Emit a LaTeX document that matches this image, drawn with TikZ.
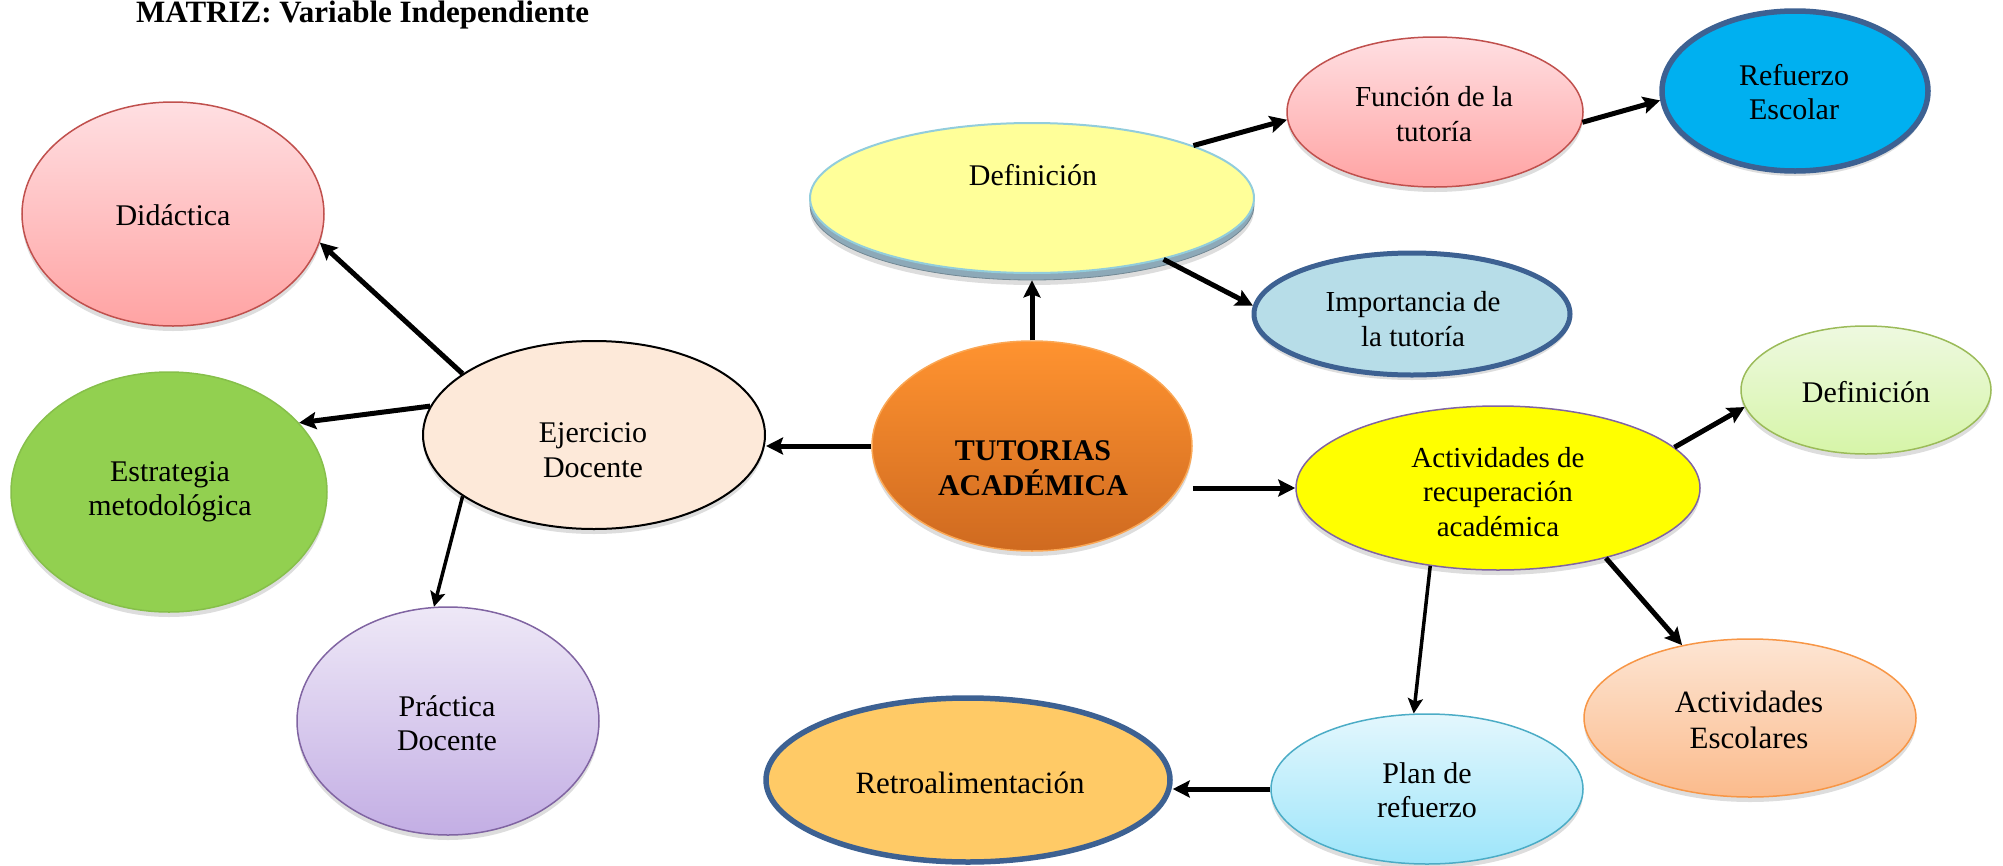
\documentclass[tikz,border=0pt]{standalone}
\usepackage{fontspec}
\setmainfont{Liberation Serif}
\usetikzlibrary{shapes.geometric,arrows.meta,shadows}
\definecolor{cRedB}{HTML}{C0504D}
\definecolor{cPinkT}{HTML}{FFDFE2}
\definecolor{cPinkB}{HTML}{FFA3A3}
\definecolor{cGreen}{HTML}{92D050}
\definecolor{cPeachE}{HTML}{FDE9D9}
\definecolor{cLavT}{HTML}{EEE8F7}
\definecolor{cLavB}{HTML}{C3AEE4}
\definecolor{cPurB}{HTML}{8064A2}
\definecolor{cGold}{HTML}{FFCA66}
\definecolor{cNavy}{HTML}{3D6192}
\definecolor{cCyT}{HTML}{E3F7FD}
\definecolor{cCyB}{HTML}{9DE5FA}
\definecolor{cCyBd}{HTML}{4BACC6}
\definecolor{cOrT}{HTML}{FDE5D3}
\definecolor{cOrB}{HTML}{FBBB8C}
\definecolor{cOrBd}{HTML}{F79646}
\definecolor{cYel}{HTML}{FFFF00}
\definecolor{cTutT}{HTML}{FF9330}
\definecolor{cTutB}{HTML}{CF6A20}
\definecolor{cTutBd}{HTML}{FAA755}
\definecolor{cLYel}{HTML}{FFFF99}
\definecolor{cLBlue}{HTML}{92CDDC}
\definecolor{cExtr}{HTML}{8DA9B8}
\definecolor{cSky}{HTML}{00B0F0}
\definecolor{cPaleB}{HTML}{B7DDE8}
\definecolor{cLimT}{HTML}{EEF9E0}
\definecolor{cLimB}{HTML}{D6F5A8}
\definecolor{cLimBd}{HTML}{9BBB59}
\tikzset{
  ell/.style={ellipse, inner sep=0pt, line width=1.5pt},
  sh/.style={drop shadow={shadow xshift=0pt, shadow yshift=-5pt, opacity=0.22, fill=black!60}},
  txt/.style={font=\fontsize{30}{34.5}\selectfont, align=center, inner sep=0pt},
  arr/.style={line width=5pt, -{Stealth[length=17pt,width=17pt,inset=3pt]}},
  arrthin/.style={line width=3.5pt, -{Stealth[length=15pt,width=15pt,inset=3pt]}}
}
\begin{document}
\begin{tikzpicture}[x=1pt,y=-1pt]
\useasboundingbox (0,0) rectangle (2003,865);
% title
\node[anchor=base west, inner sep=0pt, font=\fontsize{31}{36}\selectfont\bfseries] (title) at (136,22) {MATRIZ: Variable Independiente};
% ellipses
\node[ell, sh, minimum width=302pt, minimum height=224pt, draw=cRedB, top color=cPinkT, bottom color=cPinkB] (did) at (173,214) {};
\node[ell, sh, minimum width=316pt, minimum height=240pt, draw=cGreen!92!black, fill=cGreen] (est) at (169,492) {};
\node[ell, sh, minimum width=342pt, minimum height=188pt, draw=black, line width=2pt, fill=cPeachE] (eje) at (594,435) {};
\node[ell, sh, minimum width=302pt, minimum height=228pt, draw=cPurB, top color=cLavT, bottom color=cLavB] (prac) at (448,721) {};
\node[ell, minimum width=404pt, minimum height=164pt, draw=cNavy, line width=5.5pt, fill=cGold] (retro) at (968,780) {};
\node[ell, sh, minimum width=312pt, minimum height=150pt, draw=cCyBd, top color=cCyT, bottom color=cCyB] (plan) at (1427,789) {};
\node[ell, sh, minimum width=332pt, minimum height=158pt, draw=cOrBd, top color=cOrT, bottom color=cOrB] (aesc) at (1750,718) {};
\node[ell, sh, minimum width=404pt, minimum height=164pt, draw=cPurB, fill=cYel] (act) at (1498,488) {};
\node[ell, sh, minimum width=320pt, minimum height=210pt, draw=cTutBd, top color=cTutT, bottom color=cTutB] (tut) at (1032,446) {};
\node[ell, sh, minimum width=444pt, minimum height=150pt, draw=cExtr!80!black, line width=0.8pt, fill=cExtr] (defx) at (1032,205) {};
\node[ell, minimum width=444pt, minimum height=150pt, draw=cLBlue, line width=2pt, fill=cLYel] (def) at (1032,198) {};
\node[ell, sh, minimum width=296pt, minimum height=150pt, draw=cRedB, top color=cPinkT, bottom color=cPinkB] (fun) at (1435,112) {};
\node[ell, sh, minimum width=266pt, minimum height=160pt, draw=cNavy, line width=5.5pt, fill=cSky] (ref) at (1795,91) {};
\node[ell, sh, minimum width=316pt, minimum height=122pt, draw=cNavy, line width=5pt, fill=cPaleB] (imp) at (1412,314) {};
\node[ell, sh, minimum width=250pt, minimum height=128pt, draw=cLimBd, top color=cLimT, bottom color=cLimB] (defg) at (1866,390) {};
% texts
\node[txt] (didT) at (173,215) {Didáctica};
\node[txt] (estT) at (170,492) {Estrategia\\metodológica};
\node[txt] (ejeT) at (593,450) {Ejercicio\\Docente};
\node[txt] (pracT) at (447,723) {Práctica\\Docente};
\node[txt, font=\fontsize{31}{35}\selectfont] (retroT) at (970,783) {Retroalimentación};
\node[txt] (planT) at (1427,790) {Plan de\\refuerzo};
\node[txt, font=\fontsize{31}{36}\selectfont] (aescT) at (1749,720) {Actividades\\Escolares};
\node[txt, font=\fontsize{29}{34.5}\selectfont] (actT) at (1498,492) {Actividades de\\recuperación\\académica};
\node[txt, font=\fontsize{30}{34.5}\selectfont\bfseries] (tutT) at (1033,468) {TUTORIAS\\ACADÉMICA};
\node[txt] (defT) at (1033,175) {Definición};
\node[txt, font=\fontsize{29}{34.5}\selectfont] (funT) at (1434,114) {Función de la\\tutoría};
\node[txt] (refT) at (1794,92) {Refuerzo\\Escolar};
\node[txt, font=\fontsize{29}{34.5}\selectfont] (impT) at (1413,319) {Importancia de\\la tutoría};
\node[txt] (defgT) at (1866,392) {Definición};
% arrows
\draw[arr] (tut.north) -- (defx.south);
\draw[arr] (tut.west) -- (tut.west -| eje.east);
\draw[arr] (tut.east |- act.west) -- (act.west);
\draw[arr] (eje.155) -- (did.-11);
\draw[arr] (eje.170) -- (est.28);
\draw[arrthin] (eje.-155) -- (prac.97);
\draw[arr] (def.18) -- (fun.183);
\draw[arr] (fun.-4) -- (ref.184);
\draw[arr] (def.-25) -- (imp.177);
\draw[arr] (act.13) -- (defg.188);
\draw[arr] (act.-33) -- (aesc.133);
\draw[arrthin] (act.-131) -- (plan.100);
\draw[arr] (plan.west) -- (plan.west -| retro.east);
\end{tikzpicture}
\end{document}
